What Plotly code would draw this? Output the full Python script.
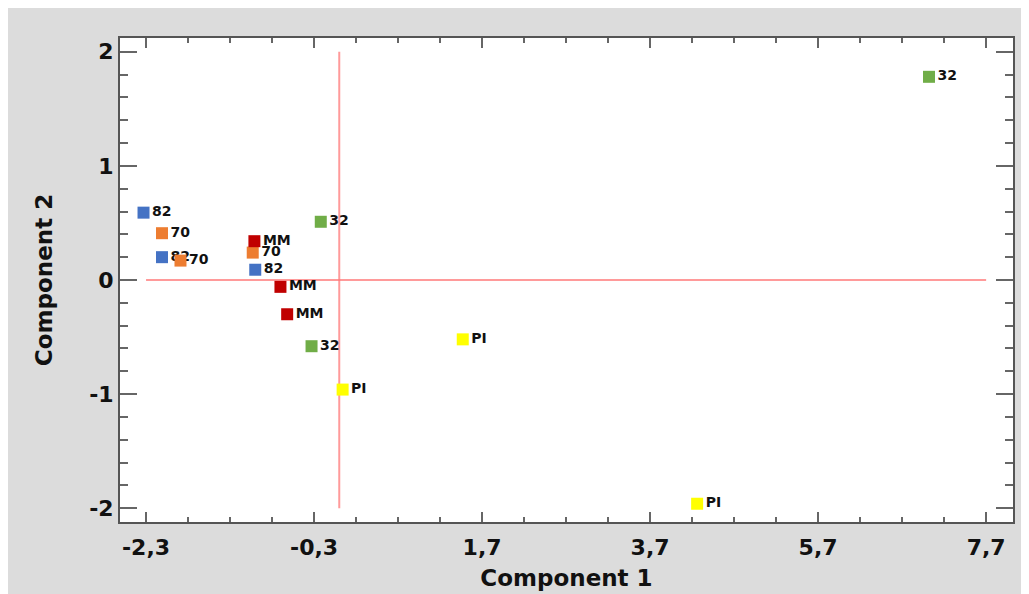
import plotly.graph_objects as go

# ---- data ----
groups = ["82", "70", "MM", "32", "PI"]
group_colors = ["#4472C4", "#ED7D31", "#C00000", "#70AD47", "#FFFF00"]

pc1_82 = [-2.33, -2.11, -1.00]
pc2_82 = [0.59, 0.20, 0.09]
pc1_70 = [-2.11, -1.89, -1.03]
pc2_70 = [0.41, 0.17, 0.24]
pc1_MM = [-1.01, -0.70, -0.62]
pc2_MM = [0.34, -0.06, -0.30]
pc1_32 = [-0.22, -0.33, 7.02]
pc2_32 = [0.51, -0.58, 1.78]
pc1_PI = [0.04, 1.47, 4.26]
pc2_PI = [-0.96, -0.52, -1.96]

x_tick_vals = [-2.3, -0.3, 1.7, 3.7, 5.7, 7.7]
x_tick_text = ["-2,3", "-0,3", "1,7", "3,7", "5,7", "7,7"]
y_tick_vals = [-2, -1, 0, 1, 2]
y_tick_text = ["-2", "-1", "0", "1", "2"]

x_title = "Component 1"
y_title = "Component 2"

series_x = [pc1_82, pc1_70, pc1_MM, pc1_32, pc1_PI]
series_y = [pc2_82, pc2_70, pc2_MM, pc2_32, pc2_PI]

FONT = "DejaVu Sans"
GREY_BG = "#dcdcdc"
FRAME = "#555555"
REFLINE = "rgba(255,120,120,0.75)"

fig = go.Figure()

# reference lines through origin
fig.add_trace(go.Scatter(x=[x_tick_vals[0], x_tick_vals[-1]], y=[0, 0], mode="lines",
                         line=dict(color=REFLINE, width=2), hoverinfo="skip", showlegend=False))
fig.add_trace(go.Scatter(x=[0, 0], y=[y_tick_vals[0], y_tick_vals[-1]], mode="lines",
                         line=dict(color=REFLINE, width=2), hoverinfo="skip", showlegend=False))

for name, color, xs, ys in zip(groups, group_colors, series_x, series_y):
    fig.add_trace(go.Scatter(
        x=xs, y=ys, mode="markers+text", name=name,
        text=[name] * len(xs), textposition="middle right",
        textfont=dict(family=FONT, size=14, color="#111111", weight="bold"),
        marker=dict(symbol="square", size=12, color=color, line=dict(width=0)),
        showlegend=False,
    ))

axis_common = dict(
    showline=True, linecolor=FRAME, linewidth=2, mirror="ticks",
    showgrid=False, zeroline=False,
    ticks="inside", tickcolor="#666666", tickwidth=1.5,
    tickfont=dict(family=FONT, size=22, color="#111111", weight="bold"),
)

fig.update_xaxes(
    **axis_common,
    range=[-2.61, 8.02],
    tickmode="array", tickvals=x_tick_vals, ticktext=x_tick_text, ticklen=10,
    ticklabelstandoff=5,
    minor=dict(ticks="inside", tick0=-2.3, dtick=0.5, ticklen=5, tickcolor="#666666", tickwidth=1.5),
    title=dict(text=x_title, font=dict(family=FONT, size=23, color="#111111", weight="bold"), standoff=10),
)
fig.update_yaxes(
    **axis_common,
    range=[-2.12, 2.12],
    tickmode="array", tickvals=y_tick_vals, ticktext=y_tick_text, ticklen=17,
    minor=dict(ticks="inside", tick0=0, dtick=0.2, ticklen=8, tickcolor="#666666", tickwidth=1.5),
    title=dict(text=y_title, font=dict(family=FONT, size=23, color="#111111", weight="bold"), standoff=30),
)

fig.update_layout(
    width=1029, height=594,
    margin=dict(l=112, r=24, t=30, b=80),
    paper_bgcolor=GREY_BG, plot_bgcolor="white",
    showlegend=False,
)

fig.write_html("out.html")
